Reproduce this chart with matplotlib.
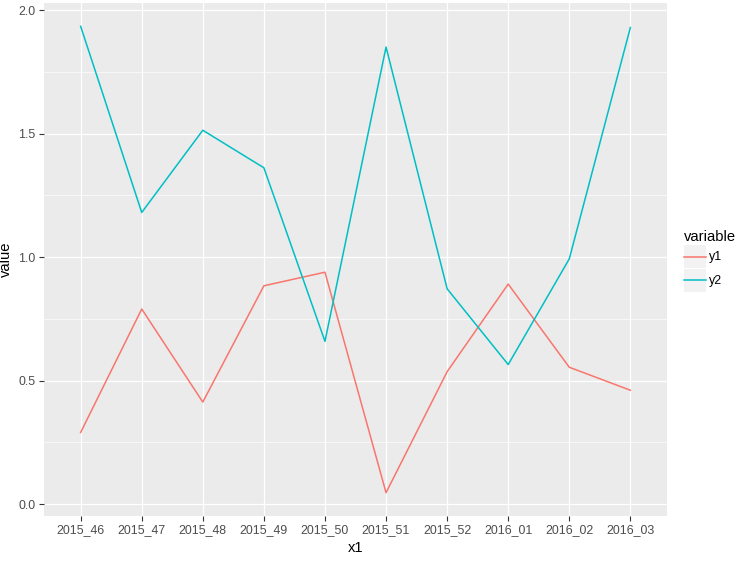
import matplotlib
matplotlib.use('Agg')
import matplotlib.pyplot as plt
from matplotlib.legend_handler import HandlerLine2D
from matplotlib.patches import Rectangle
import numpy as np

# Data
WEEKS = ['2015_46', '2015_47', '2015_48', '2015_49', '2015_50',
         '2015_51', '2015_52', '2016_01', '2016_02', '2016_03']
Y1 = [0.290, 0.790, 0.413, 0.884, 0.939, 0.046, 0.536, 0.891, 0.554, 0.461]
Y2 = [1.935, 1.181, 1.514, 1.362, 0.659, 1.851, 0.872, 0.565, 0.993, 1.930]

COLORS = {'y1': '#F8766D', 'y2': '#00BFC4'}


class KeyHandler(HandlerLine2D):
    """Legend key with the grey ggplot-style background box."""
    def create_artists(self, legend, orig_handle, xdescent, ydescent,
                       width, height, fontsize, trans):
        bg = Rectangle((-xdescent, -ydescent), width, height,
                       facecolor='#F2F2F2', edgecolor='none', transform=trans)
        arts = super().create_artists(legend, orig_handle, xdescent, ydescent,
                                      width, height, fontsize, trans)
        # put the key line in the middle of the box
        mid = height / 2 - ydescent
        for a in arts:
            a.set_ydata(np.full_like(np.asarray(a.get_xdata(), float), mid))
        return [bg] + arts


plt.rcParams['font.family'] = ['Liberation Sans', 'DejaVu Sans']

fig = plt.figure(figsize=(7.44, 5.61), dpi=100)
ax = fig.add_axes([44 / 744, 1 - 516 / 561, (667 - 44) / 744, (516 - 3) / 561])
ax.set_facecolor('#EBEBEB')

x = np.arange(len(WEEKS))
ax.plot(x, Y1, color=COLORS['y1'], linewidth=1.1, label='y1')
ax.plot(x, Y2, color=COLORS['y2'], linewidth=1.1, label='y2')

# ggplot default expansion
allv = Y1 + Y2
lo, hi = min(allv), max(allv)
pad = (hi - lo) * 0.05
ax.set_ylim(lo - pad, hi + pad)
ax.set_xlim(-0.6, len(WEEKS) - 1 + 0.6)

ax.set_xticks(x)
ax.set_xticklabels(WEEKS)
ax.set_yticks([0.0, 0.5, 1.0, 1.5, 2.0])
ax.set_yticklabels(['0.0', '0.5', '1.0', '1.5', '2.0'])
ax.set_yticks([0.25, 0.75, 1.25, 1.75], minor=True)

ax.grid(which='major', color='white', linewidth=0.9)
ax.grid(which='minor', axis='y', color='white', linewidth=0.45)
ax.set_axisbelow(True)
for s in ax.spines.values():
    s.set_visible(False)

ax.tick_params(axis='both', which='major', length=3.5, width=0.8,
               color='#333333', labelcolor='#4D4D4D', labelsize=8.9, pad=2.5)
ax.tick_params(axis='y', which='minor', length=0)

ax.set_xlabel('x1', fontsize=10.6, color='black', labelpad=3)
ax.set_ylabel('value', fontsize=10.6, color='black', labelpad=4)

leg = ax.legend(title='variable', loc='center left',
                bbox_to_anchor=(684 / 744, 1 - 261 / 561),
                bbox_transform=fig.transFigure, frameon=False,
                handlelength=1.8, handleheight=2.45, labelspacing=0.08,
                handletextpad=0.25, borderpad=0, borderaxespad=0,
                fontsize=8.9, title_fontsize=10.6, alignment='left',
                handler_map={plt.Line2D: KeyHandler()})
for h in leg.get_lines():
    h.set_linewidth(1.6)

fig.savefig('out.png', dpi=100, facecolor='white')
